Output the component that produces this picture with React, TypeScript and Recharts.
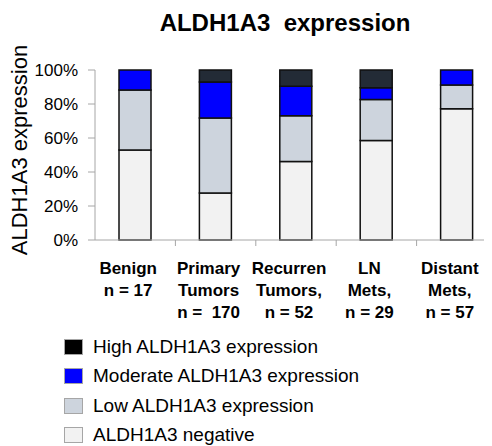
import { BarChart, Bar, XAxis, YAxis, Legend } from "recharts";

// ALDH1A3 staining, % of cases per tissue group
const TICK_LINES = [
  ["Benign", "n = 17"],
  ["Primary", "Tumors", "n =  170"],
  ["Recurren", "Tumors,", "n = 52"],
  ["LN", "Mets,", "n = 29"],
  ["Distant", "Mets,", "n = 57"],
];
const GROUPS = ["Benign", "Primary", "Recurrent", "LN Mets", "Distant Mets"];
const NEGATIVE = [52.9, 27.6, 46.2, 58.6, 77.2];
const LOW = [35.3, 44.1, 26.9, 24.1, 14.0];
const MODERATE = [11.8, 21.2, 17.3, 6.9, 8.8];
const HIGH = [0, 7.1, 9.6, 10.4, 0];
const Y_TICKS = [0, 20, 40, 60, 80, 100];

const data = GROUPS.map((g, i) => ({
  group: g,
  negative: NEGATIVE[i],
  low: LOW[i],
  moderate: MODERATE[i],
  high: HIGH[i],
}));

const FONT = '"Liberation Sans", Arial, sans-serif';
const AXIS_GREY = "#a6a6a6";
const W = 484;
const H = 438;
const Y_AXIS_W = 87;
const RIGHT = -5; // last category runs a little past the edge
const BAND = (W - Y_AXIS_W - RIGHT) / GROUPS.length;

const legendItems = [
  { label: "High ALDH1A3 expression", color: "#000000" },
  { label: "Moderate ALDH1A3 expression", color: "#0000ff" },
  { label: "Low ALDH1A3 expression", color: "#cdd4dd" },
  { label: "ALDH1A3 negative", color: "#f2f2f2" },
];

const CategoryTick = (props: any) => {
  const { x, y, index } = props;
  const lines = TICK_LINES[index] || [];
  return (
    <g>
      {index < GROUPS.length - 1 && (
        <line x1={x + BAND / 2} x2={x + BAND / 2} y1={y} y2={y + 6} stroke={AXIS_GREY} strokeWidth={1} />
      )}
      <text x={x - 7} y={y} textAnchor="middle" fontSize={17} fontWeight="bold" fontFamily={FONT} fill="#000">
        {lines.map((l, i) => (
          <tspan key={i} x={x - 7} dy={i === 0 ? 34 : 22} style={{ whiteSpace: "pre" }}>
            {l}
          </tspan>
        ))}
      </text>
    </g>
  );
};

const LegendBox = () => (
  <div style={{ fontFamily: FONT, fontSize: 19, color: "#000" }}>
    {legendItems.map((it) => (
      <div key={it.label} style={{ display: "flex", alignItems: "center", height: 29.5 }}>
        <span
          style={{
            display: "inline-block",
            flex: "none",
            boxSizing: "border-box",
            width: 19,
            height: 16,
            marginLeft: 56,
            marginRight: 10,
            background: it.color,
            border: "1.5px solid #a6a6a6",
          }}
        />
        <span style={{ whiteSpace: "nowrap", lineHeight: "22px" }}>{it.label}</span>
      </div>
    ))}
  </div>
);

const barProps = { stackId: "a", stroke: "#111", strokeWidth: 1.5, barSize: 32, isAnimationActive: false };

export default function App() {
  return (
    <BarChart width={W} height={H} data={data} margin={{ top: 62, right: RIGHT, left: 0, bottom: 106 }}>
      <text x={277} y={23} textAnchor="middle" fontSize={24} fontWeight="bold" fontFamily={FONT} fill="#000" style={{ whiteSpace: "pre" }}>
        ALDH1A3  expression
      </text>
      <text x={19} y={142} textAnchor="middle" fontSize={22} fontFamily={FONT} fill="#000" transform="rotate(-90, 19, 142)">
        ALDH1A3 expression
      </text>
      <XAxis
        dataKey="group"
        interval={0}
        height={100}
        tickLine={false}
        tickSize={0}
        tickMargin={0}
        axisLine={{ stroke: AXIS_GREY, strokeWidth: 1 }}
        tick={<CategoryTick />}
      />
      <YAxis
        width={Y_AXIS_W}
        domain={[0, 100]}
        ticks={Y_TICKS}
        tickFormatter={(v) => `${v}%`}
        tickSize={7}
        tickMargin={10}
        axisLine={{ stroke: AXIS_GREY, strokeWidth: 1 }}
        tickLine={{ stroke: AXIS_GREY, strokeWidth: 1 }}
        tick={{ fontSize: 17, fontFamily: FONT, fill: "#000" }}
      />
      <Legend
        layout="vertical"
        align="center"
        verticalAlign="middle"
        wrapperStyle={{ left: 0, top: 324, width: 420 }}
        content={<LegendBox />}
      />
      <Bar dataKey="negative" fill="#f2f2f2" {...barProps} />
      <Bar dataKey="low" fill="#cdd4dd" {...barProps} />
      <Bar dataKey="moderate" fill="#0000ff" {...barProps} />
      <Bar dataKey="high" fill="#232b36" {...barProps} />
    </BarChart>
  );
}
